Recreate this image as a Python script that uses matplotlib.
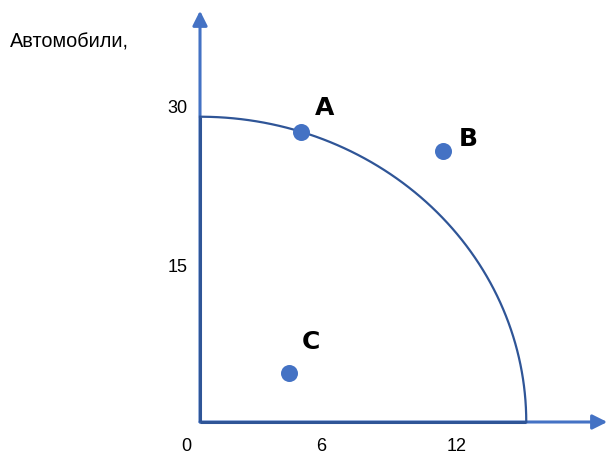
import numpy as np
import matplotlib.pyplot as plt

# chart units: x = "6 / 12" axis, y = "15 / 30" axis
x_max = 14.5        # curve meets x axis
y_max = 28.8        # curve meets y axis
point_names = ["A", "B", "C"]
point_x = [4.5, 10.8, 3.95]
point_y = [27.4, 25.6, 4.6]
ytick_labels = ["30", "15"]
ytick_pos = [29.7, 14.7]
xtick_labels = ["0", "6", "12"]
xtick_pos = [-0.6, 5.4, 11.4]

light = "#4472C4"
dark = "#2F5597"

fig = plt.figure(figsize=(6.08, 4.56), dpi=100)
ax = fig.add_axes([0, 0, 1, 1])
ax.set_xlim(-8.889, 18.133)
ax.set_ylim(-3.113, 39.906)
ax.axis("off")

# axes with arrows
ax.annotate("", xy=(0, 38.8), xytext=(0, 0),
            arrowprops=dict(arrowstyle="-|>", color=light, lw=2.2, mutation_scale=22, shrinkA=0, shrinkB=0))
ax.annotate("", xy=(18.1, 0), xytext=(0, 0),
            arrowprops=dict(arrowstyle="-|>", color=light, lw=2.2, mutation_scale=22, shrinkA=0, shrinkB=0))

# frontier region outline
t = np.linspace(0, np.pi / 2, 200)
ax.plot(x_max * np.cos(t), y_max * np.sin(t), color=dark, lw=1.6, zorder=4)
ax.plot([0, 0], [0, y_max], color=dark, lw=2.2, solid_capstyle="butt", zorder=4)
ax.plot([0, x_max], [0, 0], color=dark, lw=2.2, solid_capstyle="butt", zorder=4)

# points
ax.scatter(point_x, point_y, s=150, color=light, zorder=5, linewidths=0)
label_off = [(1.05, 2.3), (1.1, 1.2), (1.0, 3.0)]
for n, px, py, (dx, dy) in zip(point_names, point_x, point_y, label_off):
    ax.text(px + dx, py + dy, n, fontsize=18, fontweight="bold", ha="center", va="center",
            family="DejaVu Sans")

# tick labels
for lab, yp in zip(ytick_labels, ytick_pos):
    ax.text(-0.55, yp, lab, fontsize=13, ha="right", va="center", family="Liberation Sans")
for lab, xp in zip(xtick_labels, xtick_pos):
    ax.text(xp, -2.2, lab, fontsize=13, ha="center", va="center", family="Liberation Sans")

ax.text(-8.45, 35.9, "Автомобили,", fontsize=14.3, ha="left", va="center", family="Liberation Sans")

fig.savefig("out.png", dpi=100)
